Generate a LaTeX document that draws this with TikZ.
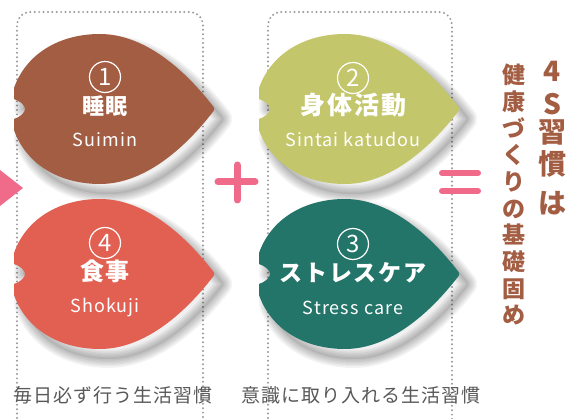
\documentclass[tikz,border=0pt]{standalone}
\usepackage{fontspec}
\setmainfont{Noto Sans CJK JP}
\definecolor{leafbrown}{HTML}{A35D42}
\definecolor{leafred}{HTML}{E26052}
\definecolor{leafolive}{HTML}{C4C66B}
\definecolor{leafteal}{HTML}{247569}
\definecolor{accentpink}{HTML}{F06A8A}
\definecolor{labelgray}{HTML}{595959}
\definecolor{dotgray}{HTML}{9A9A9A}
\newcommand{\leafpath}{(0,-21) .. controls (12,-55) and (45,-75) .. (86,-75) .. controls (130,-75) and (170,-40) .. (198,-4) .. controls (201,-1) and (201,1) .. (198,4) .. controls (170,40) and (130,75) .. (86,75) .. controls (45,75) and (12,55) .. (0,21) -- (0,10) .. controls (6,8) and (11,4) .. (11,0) .. controls (11,-4) and (6,-8) .. (0,-10) -- cycle}
\newcommand{\leafshade}[2]{%
  \foreach \w in {18,15,12,9,6,3,0.1} {
    \draw[black, draw opacity=0.045, line width=\w pt, line join=round, shift={(#1+9,#2+10)}] \leafpath;
  }
  \fill[black, opacity=0.06, shift={(#1+9,#2+10)}] \leafpath;
}
\tikzset{
  dotbox/.style={draw=dotgray, line width=2.2pt, dash pattern=on 0pt off 4.4pt, line cap=round, rounded corners=13pt},
  numcircle/.style={circle, draw=white, line width=1.2pt, minimum size=31pt, inner sep=0pt, text=white, font=\fontsize{24}{24}\selectfont},
  jtitle/.style={text=white, inner sep=0pt, text height=.88em, text depth=.12em, font=\fontsize{#1}{#1}\selectfont\bfseries\addfontfeatures{LetterSpace=8}},
  rtitle/.style={text=white, inner sep=0pt, font=\fontsize{18}{18}\selectfont\addfontfeatures{LetterSpace=6}},
  bottomlabel/.style={text=labelgray, inner sep=0pt, font=\fontsize{19}{19}\selectfont\addfontfeatures{LetterSpace=5}},
  vchar/.style={text=leafbrown, inner sep=0pt, text height=.88em, text depth=.12em, font=\fontsize{#1}{#1}\selectfont\bfseries},
  barpink/.style={draw=accentpink, line width=7pt, line cap=round},
}
\begin{document}
\begin{tikzpicture}[x=1pt, y=-1pt]
\clip (0,0) rectangle (571,419);
\fill[white] (0,0) rectangle (571,419);
% dotted boxes
\draw[dotbox] (17,440) -- (17,12) -- (203,12) -- (203,440);
\draw[dotbox] (268,440) -- (268,12) -- (452,12) -- (452,440);
% arrow triangle
\fill[accentpink] (0,170) -- (23,188) -- (0,206) -- cycle;
% shadows
\leafshade{14}{109}
\leafshade{14}{274}
\leafshade{259}{109}
\leafshade{259}{274}
% leaves
\fill[leafbrown, shift={(14,109)}] \leafpath;
\fill[leafred, shift={(14,274)}] \leafpath;
\fill[leafolive, shift={(259,109)}] \leafpath;
\fill[leafteal, shift={(259,274)}] \leafpath;
% leaf 1
\node[numcircle] (c1) at (105,77) {1};
\node[jtitle=22] (t1) at (105,111) {睡眠};
\node[rtitle, anchor=base] (r1) at (105,147) {Suimin};
% leaf 4
\node[numcircle] (c4) at (105,243) {4};
\node[jtitle=24] (t4) at (105,277) {食事};
\node[rtitle, anchor=base] (r4) at (105,313) {Shokuji};
% leaf 2
\node[numcircle] (c2) at (353,78) {2};
\node[jtitle=25] (t2) at (353,111) {身体活動};
\node[rtitle, anchor=base] (r2) at (353,147) {Sintai katudou};
% leaf 3
\node[numcircle] (c3) at (353,244) {3};
\node[jtitle=23] (t3) at (353,278) {ストレスケア};
\node[rtitle, anchor=base] (r3) at (353,315) {Stress care};
% plus and equals
\draw[barpink] (218,182) -- (255,182);
\draw[barpink] (237,165) -- (237,200);
\draw[draw=accentpink, line width=6pt, line cap=round] (442,173) -- (478,173);
\draw[draw=accentpink, line width=6pt, line cap=round] (442,191) -- (478,191);
% bottom labels
\node[bottomlabel] (b1) at (113,395) {毎日必ず行う生活習慣};
\node[bottomlabel] (b2) at (361,395) {意識に取り入れる生活習慣};
% vertical title
\node[vchar=28] (v1) at (552,78) {4};
\node[vchar=28] (v2) at (552,111) {S};
\node[vchar=28] (v3) at (552,139) {習};
\node[vchar=28] (v4) at (552,171) {慣};
\node[vchar=28] (v5) at (552,210) {は};
\foreach \ch [count=\i from 0] in {健,康,づ,く,り,の,基,礎,固,め} {
  \node[vchar=23] (w\i) at (514,80+26.67*\i) {\ch};
}
\end{tikzpicture}
\end{document}
